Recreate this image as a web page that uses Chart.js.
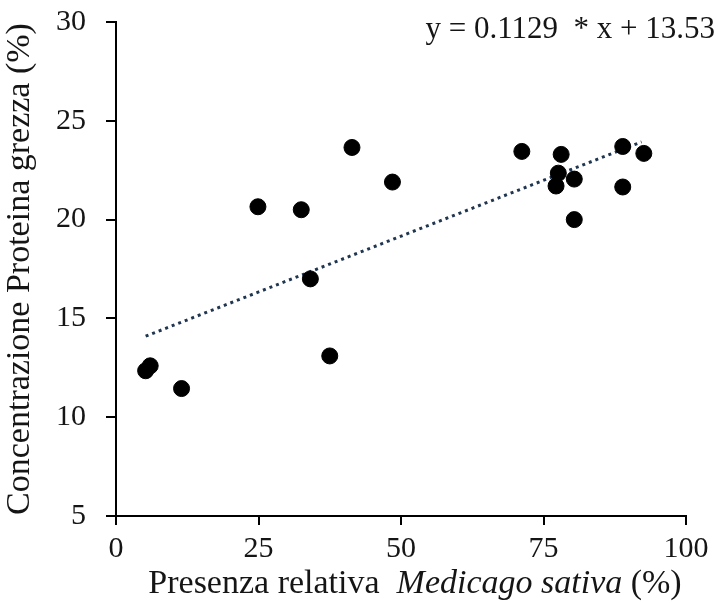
<!DOCTYPE html>
<html lang="it">
<head>
  <meta charset="utf-8"/>
  <title>Proteina grezza vs Medicago sativa</title>
  <script src="https://cdn.jsdelivr.net/npm/chart.js"></script>
  <style>
    html, body { margin: 0; padding: 0; background: #fff; }
    #wrap { width: 718px; height: 603px; }
  </style>
</head>
<body>
  <div id="wrap"><canvas id="chart" width="718" height="603"></canvas></div>

  <script>
  // ── DATA ─────────────────────────────────────────
  const presenzaMedicago = [5.2, 6.0, 11.5, 24.9, 32.5, 34.1, 37.5, 41.4, 48.5,
                            71.2, 77.2, 77.6, 78.1, 80.4, 80.4, 88.9, 88.9, 92.6];
  const proteinaGrezza   = [12.35, 12.6, 11.45, 20.65, 20.5, 17.0, 13.1, 23.65, 21.9,
                            23.45, 21.7, 22.35, 23.3, 22.05, 20.0, 23.7, 21.65, 23.35];
  const trendX = [5.2, 92.2];
  const trendY = [14.1, 23.93];
  const xTicks = [0, 25, 50, 75, 100];
  const yTicks = [5, 10, 15, 20, 25, 30];
  const equation = 'y = 0.1129  * x + 13.53';
  // ─────────────────────────────────────────────────

  const serif = '"Liberation Serif", "Times New Roman", serif';

  const points = presenzaMedicago.map((x, i) => ({ x, y: proteinaGrezza[i] }));
  const trend  = trendX.map((x, i) => ({ x, y: trendY[i] }));

  // x title with italic species name, plus the equation
  const textPlugin = {
    id: 'texts',
    afterDraw(chart) {
      const c = chart.ctx;
      c.save();
      c.fillStyle = '#151515';
      c.textBaseline = 'alphabetic';

      const parts = [
        { t: 'Presenza relativa  ', f: '34px ' + serif },
        { t: 'Medicago sativa', f: 'italic 34px ' + serif },
        { t: ' (%)', f: '34px ' + serif }
      ];
      let total = 0;
      parts.forEach(p => { c.font = p.f; p.w = c.measureText(p.t).width; total += p.w; });
      let x = 415 - total / 2;
      c.textAlign = 'left';
      parts.forEach(p => { c.font = p.f; c.fillText(p.t, x, 593); x += p.w; });

      c.font = '31px ' + serif;
      c.textAlign = 'right';
      c.fillText(equation, 715, 38);
      c.restore();
    }
  };

  new Chart(document.getElementById('chart'), {
    type: 'scatter',
    data: {
      datasets: [
        {
          label: 'Trend',
          data: trend,
          type: 'line',
          showLine: true,
          borderColor: '#1f3550',
          borderWidth: 3,
          borderDash: [3, 4],
          pointRadius: 0,
          fill: false,
          order: 2
        },
        {
          label: 'Campioni',
          data: points,
          backgroundColor: '#000',
          borderColor: '#000',
          pointRadius: 8,
          pointHoverRadius: 8,
          order: 1
        }
      ]
    },
    options: {
      responsive: false,
      animation: false,
      layout: { padding: { top: 22, right: 32, left: 0, bottom: 0 } },
      plugins: {
        legend: { display: false },
        tooltip: { enabled: false }
      },
      scales: {
        x: {
          type: 'linear',
          min: 0, max: 100,
          afterBuildTicks: s => { s.ticks = xTicks.map(v => ({ value: v })); },
          afterFit: s => { s.height = 87; s.paddingLeft = 0; s.paddingRight = 0; },
          border: { color: '#000', width: 2 },
          grid: { drawOnChartArea: false, drawTicks: true, tickLength: 9, color: '#000', lineWidth: 2 },
          ticks: { color: '#151515', font: { family: serif, size: 30 }, padding: 6, maxRotation: 0 }
        },
        y: {
          type: 'linear',
          min: 5, max: 30,
          afterBuildTicks: s => { s.ticks = yTicks.map(v => ({ value: v })); },
          afterFit: s => { s.width = 116; s.paddingTop = 0; s.paddingBottom = 0; },
          border: { color: '#000', width: 2 },
          grid: { drawOnChartArea: false, drawTicks: true, tickLength: 10, color: '#000', lineWidth: 2 },
          ticks: { color: '#151515', font: { family: serif, size: 30 }, padding: 20 },
          title: {
            display: true,
            text: 'Concentrazione Proteina grezza (%)',
            color: '#151515',
            font: { family: serif, size: 34 },
            padding: { top: 0, bottom: 0 }
          }
        }
      }
    },
    plugins: [textPlugin]
  });
  </script>
</body>
</html>
